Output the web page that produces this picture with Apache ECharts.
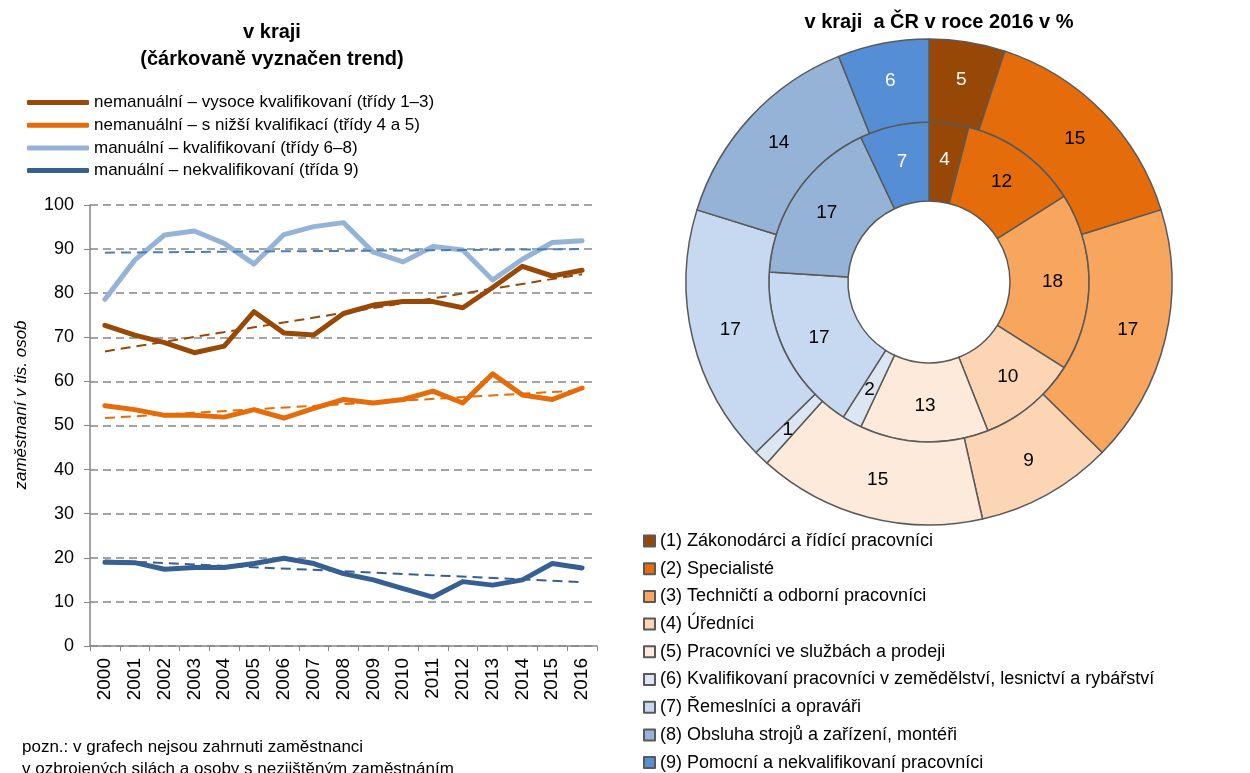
<!DOCTYPE html>
<html>
<head>
<meta charset="utf-8">
<script src="https://cdn.jsdelivr.net/npm/echarts@6/dist/echarts.min.js"></script>
<style>
  html, body { margin: 0; padding: 0; background: #fff; }
  #main { width: 1250px; height: 773px; }
</style>
</head>
<body>
<div id="main"></div>
<script>
// roky a skupiny zaměstnání (levý graf)
var years = ['2000','2001','2002','2003','2004','2005','2006','2007','2008','2009','2010','2011','2012','2013','2014','2015','2016'];
var groupNames = [
  'nemanuální – vysoce kvalifikovaní (třídy 1–3)',
  'nemanuální – s nižší kvalifikací (třídy 4 a 5)',
  'manuální – kvalifikovaní (třídy 6–8)',
  'manuální – nekvalifikovaní (třída 9)'
];
var vysoce   = [72.7, 70.5, 68.8, 66.5, 68.0, 75.8, 71.0, 70.5, 75.4, 77.3, 78.1, 78.1, 76.7, 81.3, 86.1, 83.9, 85.2];
var nizsi    = [54.5, 53.6, 52.3, 52.3, 51.9, 53.6, 51.7, 53.9, 55.9, 55.1, 55.9, 57.8, 55.1, 61.7, 56.9, 55.9, 58.5];
var kvalif   = [78.6, 87.5, 93.2, 94.1, 91.3, 86.6, 93.3, 95.1, 96.0, 89.3, 87.1, 90.6, 89.8, 83.0, 87.7, 91.5, 91.9];
var nekvalif = [19.0, 18.9, 17.4, 17.8, 17.8, 18.7, 19.9, 18.7, 16.4, 15.0, 13.0, 11.1, 14.6, 13.8, 15.0, 18.7, 17.7];
// trend (hodnota v roce 2000 a 2016)
var trendStart = [66.8, 51.7, 89.2, 19.4];
var trendEnd   = [84.3, 58.0, 90.0, 14.5];
var yTicks = [0, 10, 20, 30, 40, 50, 60, 70, 80, 90, 100];

// struktura zaměstnaných 2016 v % (pravý graf)
var classes = [
  '(1) Zákonodárci a řídící pracovníci',
  '(2) Specialisté',
  '(3) Techničtí a odborní pracovníci',
  '(4) Úředníci',
  '(5) Pracovníci ve službách a prodeji',
  '(6) Kvalifikovaní pracovníci v zemědělství, lesnictví a rybářství',
  '(7) Řemeslníci a opraváři',
  '(8) Obsluha strojů a zařízení, montéři',
  '(9) Pomocní a nekvalifikovaní pracovníci'
];
var kraj = [4, 12, 18, 10, 13, 2, 17, 17, 7];
var cr   = [5, 15, 17, 9, 15, 1, 17, 14, 6];

var lineColors  = ['#984807', '#E46C0A', '#95B3D7', '#376092'];
var trendColors = ['#984807', '#E46C0A', '#4A7EBB', '#376092'];
var pieColors = ['#974806', '#E46C0A', '#F8A65E', '#FCD5B5', '#FDEADA', '#DCE6F2', '#C6D9F1', '#95B3D7', '#558ED5'];
var labelColors = ['#fff', '#000', '#000', '#000', '#000', '#000', '#000', '#000', '#fff'];

var font = 'Liberation Sans, Arial, sans-serif';
var lineData = [vysoce, nizsi, kvalif, nekvalif];

var series = [];
lineData.forEach(function (d, i) {
  series.push({
    name: groupNames[i],
    type: 'line',
    data: d,
    symbol: 'none',
    itemStyle: { color: lineColors[i] },
    lineStyle: { width: 5, color: lineColors[i], cap: 'round', join: 'round' },
    emphasis: { disabled: true }
  });
});
lineData.forEach(function (d, i) {
  var t = years.map(function () { return null; });
  t[0] = trendStart[i];
  t[years.length - 1] = trendEnd[i];
  series.push({
    name: 'trend ' + (i + 1),
    type: 'line',
    data: t,
    connectNulls: true,
    symbol: 'none',
    lineStyle: { width: 2, color: trendColors[i], type: [10, 6] },
    emphasis: { disabled: true }
  });
});

function pieItems(vals) {
  return vals.map(function (v, i) {
    return {
      name: classes[i],
      value: v,
      itemStyle: { color: pieColors[i] },
      label: { color: labelColors[i] }
    };
  });
}
var pieCommon = {
  type: 'pie',
  center: [929, 282],
  startAngle: 90,
  clockwise: true,
  avoidLabelOverlap: false,
  label: { show: true, position: 'inside', formatter: '{c}', fontSize: 19, fontFamily: font },
  labelLine: { show: false },
  itemStyle: { borderColor: '#595959', borderWidth: 1.5 },
  emphasis: { disabled: true }
};
series.push(Object.assign({}, pieCommon, { name: 'kraj', radius: [81, 160], data: pieItems(kraj) }));
series.push(Object.assign({}, pieCommon, { name: 'ČR', radius: [160, 243], data: pieItems(cr) }));

var myChart = echarts.init(document.getElementById('main'));

var option = {
  animation: false,
  backgroundColor: '#fff',
  textStyle: { fontFamily: font, color: '#000' },
  title: [
    {
      text: 'v kraji\n(čárkovaně vyznačen trend)',
      left: 267, top: 14, textAlign: 'center',
      textStyle: { fontSize: 20, fontWeight: 'bold', color: '#000', lineHeight: 27, fontFamily: font }
    },
    {
      text: 'v kraji  a ČR v roce 2016 v %',
      left: 934, top: 7, textAlign: 'center',
      textStyle: { fontSize: 20, fontWeight: 'bold', color: '#000', fontFamily: font }
    }
  ],
  legend: [
    {
      data: groupNames,
      orient: 'vertical',
      left: 22, top: 89,
      icon: 'roundRect',
      itemWidth: 62, itemHeight: 5,
      itemGap: 5.7,
      selectedMode: false,
      textStyle: { fontSize: 17, color: '#000', fontFamily: font }
    },
    {
      data: classes,
      orient: 'vertical',
      left: 643, top: 532,
      height: 245,
      padding: 0,
      icon: 'rect',
      itemWidth: 11, itemHeight: 11,
      itemGap: 9.7,
      selectedMode: false,
      textStyle: { fontSize: 18, color: '#000', fontFamily: font }
    }
  ],
  grid: { left: 90, right: 653, top: 205, bottom: 127 },
  xAxis: {
    type: 'category',
    data: years,
    axisLine: { lineStyle: { color: '#868686', width: 1.5 } },
    axisTick: { show: true, length: 5, lineStyle: { color: '#868686' } },
    axisLabel: { rotate: 90, fontSize: 19, color: '#000', margin: 12, fontFamily: font }
  },
  yAxis: {
    type: 'value',
    min: yTicks[0], max: yTicks[yTicks.length - 1], interval: 10,
    axisLine: { show: true, lineStyle: { color: '#868686', width: 1.5 } },
    axisTick: { show: true, length: 6, lineStyle: { color: '#868686' } },
    axisLabel: { fontSize: 18, color: '#000', margin: 16, fontFamily: font },
    splitLine: { show: true, lineStyle: { color: '#878787', width: 1.5, type: [8, 5] } }
  },
  graphic: [
    {
      type: 'text', x: 21, y: 405, rotation: Math.PI / 2,
      style: { text: 'zaměstnaní v tis. osob', font: 'italic 17px ' + font, fill: '#000', align: 'center', verticalAlign: 'middle' }
    },
    {
      type: 'text', left: 22, top: 736,
      style: { text: 'pozn.: v grafech nejsou zahrnuti zaměstnanci\nv ozbrojených silách a osoby s nezjištěným zaměstnáním', font: '17px ' + font, fill: '#000', lineHeight: 22 }
    },
    {
      type: 'text', x: 1029, y: 113,
      style: { text: 'ČR', font: 'bold 22px ' + font, fill: '#000', align: 'center', verticalAlign: 'middle' }
    },
    {
      type: 'text', x: 997, y: 170,
      style: { text: 'kraj', font: 'bold 20px ' + font, fill: '#000', align: 'center', verticalAlign: 'middle' }
    }
  ],
  series: series
};

myChart.setOption(option);
</script>
</body>
</html>
